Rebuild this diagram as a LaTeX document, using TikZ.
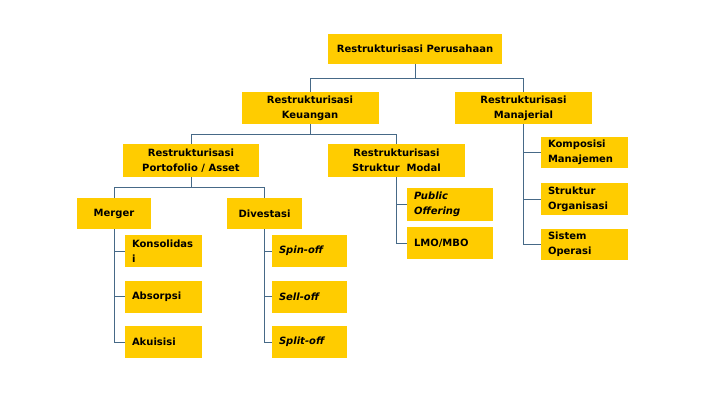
\documentclass[tikz,border=0pt]{standalone}
\usepackage{fontspec}
\setmainfont{DejaVu Sans}
\definecolor{boxyellow}{RGB}{255,204,0}
\definecolor{linecol}{RGB}{70,105,135}
\begin{document}
\begin{tikzpicture}[x=1pt,y=-1pt,
  box/.style={fill=boxyellow, draw=none, inner sep=0pt, font=\fontsize{10}{15}\selectfont\bfseries},
  cbox/.style={box, align=center},
  lbox/.style={box, align=left, inner xsep=7pt, minimum height=32pt},
  conn/.style={draw=linecol, line width=0.8pt}]
\fill[white] (0,0) rectangle (720,405);
\useasboundingbox (0,0) rectangle (720,405);
% level 0
\node[cbox, minimum width=174pt, minimum height=30pt] (top) at (415,49) {Restrukturisasi Perusahaan};
% level 1
\node[cbox, minimum width=137pt, minimum height=32pt] (keu) at (310,108) {Restrukturisasi\\Keuangan};
\node[cbox, minimum width=137pt, minimum height=32pt] (man) at (523.5,108) {Restrukturisasi\\Manajerial};
% level 2
\node[cbox, minimum width=136pt, minimum height=33pt] (port) at (191,160.5) {Restrukturisasi\\Portofolio / Asset};
\node[cbox, minimum width=137pt, minimum height=33pt] (modal) at (396.5,160.5) {Restrukturisasi\\Struktur\ \ Modal};
% level 3
\node[cbox, minimum width=74pt, minimum height=31pt] (merger) at (114,213.5) {Merger};
\node[cbox, minimum width=75pt, minimum height=31pt] (dives) at (264.5,213.5) {Divestasi};
% merger children
\node[lbox, text width=63pt] (kons) at (163.5,251) {Konsolidas\\i};
\node[lbox, text width=63pt] (abs) at (163.5,296.5) {Absorpsi};
\node[lbox, text width=63pt] (aku) at (163.5,342) {Akuisisi};
% divestasi children
\node[lbox, text width=61pt] (spin) at (309.5,251) {\itshape Spin-off};
\node[lbox, text width=61pt] (sell) at (309.5,296.5) {\itshape Sell-off};
\node[lbox, text width=61pt] (split) at (309.5,342) {\itshape Split-off};
% modal children
\node[lbox, text width=72pt, minimum height=33pt] (pub) at (450,204.5) {\itshape Public\\\itshape Offering};
\node[lbox, text width=72pt] (lmo) at (450,243) {LMO/MBO};
% manajerial children
\node[lbox, text width=73pt, minimum height=31pt] (komp) at (584.5,152.5) {Komposisi\\Manajemen};
\node[lbox, text width=73pt] (sorg) at (584.5,199) {Struktur\\Organisasi};
\node[lbox, text width=73pt, minimum height=31pt] (sop) at (584.5,244.5) {Sistem\\Operasi};
% connectors
\draw[conn] (top.south) -- ++(0,14) -| (keu.north);
\draw[conn] (top.south) -- ++(0,14) -| (man.north);
\draw[conn] (keu.south) -- ++(0,10) -| (port.north);
\draw[conn] (keu.south) -- ++(0,10) -| (modal.north);
\draw[conn] (port.south) -- ++(0,10) -| (merger.north);
\draw[conn] (port.south) -- ++(0,10) -| (dives.north);
\draw[conn] (merger.south) |- (kons.west);
\draw[conn] (merger.south) |- (abs.west);
\draw[conn] (merger.south) |- (aku.west);
\draw[conn] (dives.south) |- (spin.west);
\draw[conn] (dives.south) |- (sell.west);
\draw[conn] (dives.south) |- (split.west);
\draw[conn] (modal.south) |- (pub.west);
\draw[conn] (modal.south) |- (lmo.west);
\draw[conn] (man.south) |- (komp.west);
\draw[conn] (man.south) |- (sorg.west);
\draw[conn] (man.south) |- (sop.west);
\end{tikzpicture}
\end{document}
